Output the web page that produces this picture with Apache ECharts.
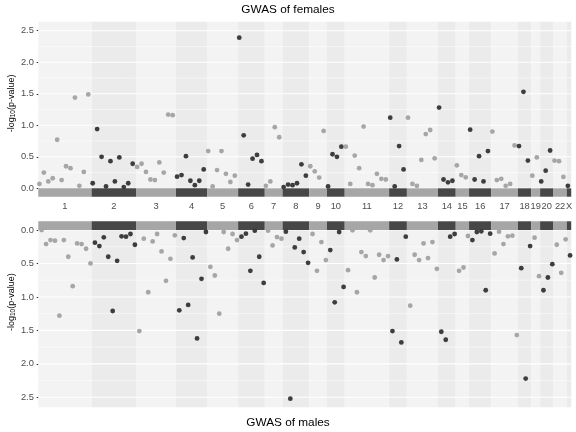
<!DOCTYPE html>
<html><head><meta charset="utf-8">
<script src="https://cdn.jsdelivr.net/npm/echarts@6/dist/echarts.min.js"></script>
<style>html,body{margin:0;padding:0;background:#fff}#c{width:576px;height:432px}</style>
</head><body><div id="c"></div>
<script>
const chromosomes = ['1','2','3','4','5','6','7','8','9','10','11','12','13','14','15','16','17','18','19','20','22','X'];
const females = [
  [0.07, 0.25, 0.11, 0.16, 0.77, 0.13, 0.35, 0.32, 1.44, 0.04, 0.26, 1.49],
  [0.08, 0.94, 0.50, 0.03, 0.43, 0.11, 0.49, 0.02, 0.08, 0.39],
  [0.34, 0.39, 0.26, 0.14, 0.13, 0.41, 0.25, 1.17, 1.16],
  [0.185, 0.21, 0.51, 0.12, 0.05, 0.12, 0.30],
  [0.59, 0.03, 0.29, 0.59, 0.23, 0.10, 0.20],
  [2.39, 0.84, 0.06, 0.47, 0.53, 0.43],
  [0.04, 0.11, 0.97, 0.81],
  [0.02, 0.06, 0.05, 0.08, 0.38, 0.20],
  [0.35, 0.27, 0.17, 0.91],
  [0.03, 0.54, 0.50, 0.66],
  [0.66, 0.07, 0.52, 0.32, 0.98, 0.07, 0.05, 0.23, 0.15, 0.14],
  [1.12, 0.03, 0.67, 0.30],
  [1.12, 0.07, 0.04, 0.45, 0.86, 0.925, 0.475],
  [1.28, 0.14, 0.095, 0.12],
  [0.365, 0.21, 0.175],
  [0.93, 0.14, 0.51, 0.11, 0.59],
  [0.90, 0.13, 0.15, 0.04, 0.07, 0.68],
  [0.67, 1.53, 0.44],
  [0.20, 0.49],
  [0.11, 0.28, 0.60],
  [0.44, 0.43, 0.18],
  [0.04]
];
const males = [
  [0.00, 0.21, 0.15, 0.16, 1.28, 0.15, 0.40, 0.84, 0.20, 0.21, 0.28, 0.50],
  [0.19, 0.24, 0.11, 0.40, 1.21, 0.46, 0.095, 0.10, 0.06, 0.22],
  [1.51, 0.13, 0.93, 0.17, 0.06, 0.32, 0.76, 0.43, 0.08],
  [1.20, 0.12, 1.12, 0.41, 1.62, 0.73, 0.03],
  [0.55, 0.68, 1.25, 0.03, 0.28, 0.06, 0.15],
  [0.10, 0.055, 0.61, 0.01, 0.40, 0.79],
  [0.01, 0.23, 0.105, 0.13],
  [0.025, 2.52, 0.26, 0.13, 0.33, 0.49],
  [0.06, 0.61, 0.18, 0.45],
  [0.30, 1.08, 0.03, 0.85],
  [0.60, 0.005, 0.93, 0.33, 0.39, 0.005, 0.71, 0.37, 0.45, 0.39],
  [1.51, 0.44, 1.68, 0.10],
  [1.13, 0.37, 0.45, 0.20, 0.42, 0.18, 0.58],
  [1.52, 1.64, 0.10, 0.06],
  [0.61, 0.56, 0.09],
  [0.15, 0.03, 0.02, 0.90, 0.055],
  [0.35, 0.025, 0.21, 0.095, 0.085, 1.57],
  [0.57, 2.22, 0.24],
  [0.115, 0.69],
  [0.90, 0.71, 0.51],
  [0.22, 0.64, 0.14],
  [0.38]
];
const yTicks = [0, 0.5, 1, 1.5, 2, 2.5];
const yMinorTicks = [0.25, 0.75, 1.25, 1.75, 2.25];
const titleTop = 'GWAS of females';
const titleBottom = 'GWAS of males';

const FONT = '"Liberation Sans", Arial, Helvetica, sans-serif';
const bandColors = ['#F3F3F3', '#EBEBEB'];
const barColors = ['#A6A6A6', '#474747'];
const pointColors = ['#A6A6A6', '#3D3D3D'];

// build interleaved slot positions: female at even slot, male at odd slot within chromosome
let base = 0;
const chrInfo = [];
const fPts = [], mPts = [];
chromosomes.forEach((c, i) => {
  const p = i % 2;
  females[i].forEach((v, k) => fPts.push([base + 2 * k, v, p]));
  males[i].forEach((v, k) => mPts.push([base + 2 * k + 1, v, p]));
  const slots = females[i].length + males[i].length;
  chrInfo.push({ name: c, start: base - 0.5, end: base + slots - 0.5, center: base + (slots - 1) / 2, parity: p });
  base += slots;
});
const xMin = -0.5, xMax = base - 0.5;
const chrRects = chrInfo.map(c => [c.start, c.end, c.parity]);
const gridVals = yTicks.map(v => [v, 1]).concat(yMinorTicks.map(v => [v, 0]));

const panels = [
  { top: 21.7, height: 175, yMin: -0.133, yMax: 2.643, inverse: false, pts: fPts },
  { top: 221.3, height: 186, yMin: -0.13, yMax: 2.649, inverse: true, pts: mPts }
];

function rectRender(yLo, yHi, colors) {
  return function (params, api) {
    const a = api.coord([api.value(0), yHi]);
    const b = api.coord([api.value(1), yLo]);
    return {
      type: 'rect',
      shape: { x: Math.min(a[0], b[0]), y: Math.min(a[1], b[1]), width: Math.abs(b[0] - a[0]), height: Math.abs(b[1] - a[1]) },
      style: { fill: colors[api.value(2)] }
    };
  };
}
function gridRender(params, api) {
  const v = api.value(0), major = api.value(1);
  const a = api.coord([xMin, v]), b = api.coord([xMax, v]);
  return { type: 'line', shape: { x1: a[0], y1: a[1], x2: b[0], y2: b[1] }, style: { stroke: '#FFFFFF', lineWidth: major ? 1.07 : 0.53 } };
}

const grids = [], xAxes = [], yAxes = [], series = [];
panels.forEach((pn, g) => {
  grids.push({ left: 38.3, right: 4.8, top: pn.top, height: pn.height });
  xAxes.push({
    type: 'value', gridIndex: g, min: xMin, max: xMax,
    axisLine: { show: false }, axisTick: { show: false }, splitLine: { show: false },
    axisLabel: g === 0 ? {
      show: true, customValues: chrInfo.map(c => c.center),
      formatter: v => { let best = chrInfo[0]; chrInfo.forEach(c => { if (Math.abs(c.center - v) < Math.abs(best.center - v)) best = c; }); return best.name; },
      fontSize: 9.3, color: '#4D4D4D', fontFamily: FONT, margin: 5
    } : { show: false }
  });
  yAxes.push({
    type: 'value', gridIndex: g, min: pn.yMin, max: pn.yMax, inverse: pn.inverse,
    axisLine: { show: false }, splitLine: { show: false },
    axisTick: { show: true, length: 2.75, customValues: yTicks, lineStyle: { color: '#333333', width: 1.07 } },
    axisLabel: { customValues: yTicks, formatter: v => v.toFixed(1), fontSize: 9.3, color: '#4D4D4D', fontFamily: FONT, margin: 4.5 }
  });
  series.push({
    type: 'custom', xAxisIndex: g, yAxisIndex: g, z: 1, silent: true,
    encode: { x: [0, 1] }, data: chrRects, renderItem: rectRender(pn.yMin, pn.yMax, bandColors)
  });
  series.push({
    type: 'custom', xAxisIndex: g, yAxisIndex: g, z: 2, silent: true,
    encode: { y: 0 }, data: gridVals, renderItem: gridRender
  });
  series.push({
    type: 'custom', xAxisIndex: g, yAxisIndex: g, z: 3, silent: true,
    encode: { x: [0, 1] }, data: chrRects, renderItem: rectRender(pn.yMin, 0, barColors)
  });
  series.push({
    type: 'scatter', xAxisIndex: g, yAxisIndex: g, z: 4, symbol: 'circle', symbolSize: 4.8,
    encode: { x: 0, y: 1 }, data: pn.pts,
    itemStyle: { color: p => pointColors[p.data[2]], opacity: 1 }
  });
});

const yTitle = (y) => ({
  type: 'text', x: 11.3, y: y, rotation: Math.PI / 2,
  style: {
    text: '{m|-log}{s|10}{m|(p-value)}', align: 'center', verticalAlign: 'middle', fill: '#000',
    rich: { m: { fontSize: 9, fontFamily: FONT, lineHeight: 11, fill: '#000' }, s: { fontSize: 6.5, fontFamily: FONT, lineHeight: 7, verticalAlign: 'bottom', fill: '#000' } }
  }
});

const chart = echarts.init(document.getElementById('c'), null, { renderer: 'canvas' });
chart.setOption({
  animation: false,
  backgroundColor: '#FFFFFF',
  grid: grids, xAxis: xAxes, yAxis: yAxes, series: series,
  graphic: [
    { type: 'text', x: 288, y: 9.5, style: { text: titleTop, font: '11.8px ' + FONT, fill: '#000', align: 'center', verticalAlign: 'middle' } },
    { type: 'text', x: 288, y: 422.5, style: { text: titleBottom, font: '11.8px ' + FONT, fill: '#000', align: 'center', verticalAlign: 'middle' } },
    yTitle(103.4),
    yTitle(302.2)
  ]
});
</script></body></html>
